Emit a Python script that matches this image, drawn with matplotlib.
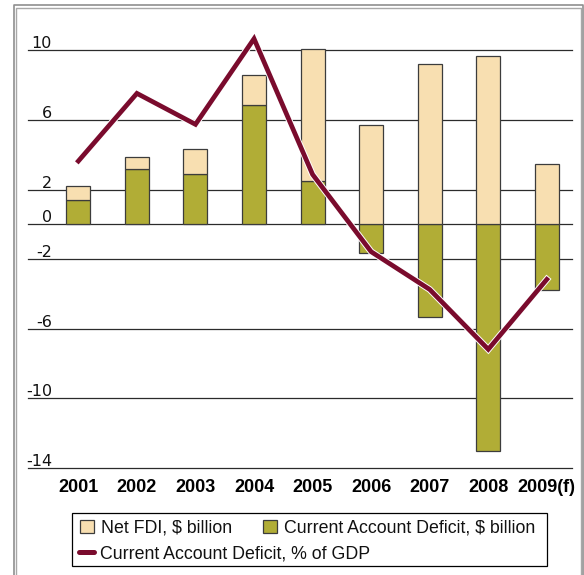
import matplotlib
matplotlib.use('Agg')
import matplotlib.pyplot as plt
from matplotlib.patches import Rectangle, Patch
from matplotlib.lines import Line2D
import matplotlib.patheffects as pe
import matplotlib.transforms as mtransforms
import numpy as np

# ---- data ----
years = ['2001', '2002', '2003', '2004', '2005', '2006', '2007', '2008', '2009(f)']
cad_bn = [1.40, 3.20, 2.89, 6.86, 2.49, -1.67, -5.33, -13.00, -3.76]
fdi_bn = [0.80, 0.65, 1.42, 1.74, 7.57, 5.69, 9.23, 9.69, 3.45]
cad_pct = [3.64, 7.53, 5.75, 10.67, 2.87, -1.57, -3.74, -7.18, -3.16]
y_ticks = [10, 6, 2, 0, -2, -6, -10, -14]
labels = ['Net FDI, $ billion', 'Current Account Deficit, $ billion',
          'Current Account Deficit, % of GDP']

C_FDI = '#F8DFB1'
C_CAD = '#B1AD36'
C_LINE = '#7A0B2D'
C_EDGE = '#3c3c3c'

W, H = 584, 575
fig = plt.figure(figsize=(W / 100, H / 100), dpi=100)


def fx(px):
    return px / W


def fy(py):
    return 1 - py / H


y_lo, y_hi = -14, 12
ppu = 17.4
ax_bottom_px = 468
ax_top_px = ax_bottom_px - (y_hi - y_lo) * ppu
ax = fig.add_axes([fx(28), fy(ax_bottom_px), fx(572) - fx(28), fy(ax_top_px) - fy(ax_bottom_px)])
ax.set_ylim(y_lo, y_hi)
ax.set_xlim(-0.86, 8.43)
for s in ax.spines.values():
    s.set_visible(False)

x = np.arange(len(years))
for t in y_ticks:
    ax.axhline(t, color='#2b2b2b', lw=0.9, zorder=1, clip_on=False)

bw = 0.41
cad = np.array(cad_bn)
fdi = np.array(fdi_bn)
ax.bar(x, cad, bw, color=C_CAD, edgecolor=C_EDGE, lw=0.9, zorder=2)
ax.bar(x, fdi, bw, bottom=np.maximum(cad, 0), color=C_FDI, edgecolor=C_EDGE, lw=0.9, zorder=2)

ax.plot(x, cad_pct, color=C_LINE, lw=3.4, zorder=4, solid_joinstyle='miter',
        path_effects=[pe.Stroke(linewidth=4.8, foreground='white'), pe.Normal()])

ax.set_yticks([])
ax.set_xticks(x)
ax.set_xticklabels(years, fontfamily='Liberation Sans', fontweight='bold', fontsize=13)
ax.tick_params(axis='x', length=0, pad=8)

ytr = mtransforms.offset_copy(ax.get_yaxis_transform(), fig=fig, x=0, y=2, units='dots')
for t in y_ticks:
    ax.text((52 - 28) / 544, t, str(t), transform=ytr, ha='right', va='baseline',
            fontsize=11.5, family='DejaVu Sans', color='#111111')

# ---- legend ----
fig.add_artist(Rectangle((fx(71.7), fy(566)), fx(546.7) - fx(71.7), fy(513.3) - fy(566),
                         transform=fig.transFigure, fill=False, edgecolor='black', lw=0.9))
h_fdi = Patch(facecolor=C_FDI, edgecolor=C_EDGE, lw=0.9)
h_cad = Patch(facecolor=C_CAD, edgecolor=C_EDGE, lw=0.9)
h_line = Line2D([], [], color=C_LINE, lw=3.6, solid_capstyle='round')
legprops = dict(frameon=False, loc='center left', borderpad=0, borderaxespad=0,
                handlelength=0.8, handleheight=0.72, handletextpad=0.38,
                prop={'family': 'Liberation Sans', 'size': 12.8})
entries = [(h_fdi, labels[0], 80, 528.3), (h_cad, labels[1], 262.7, 528.3),
           (h_line, labels[2], 79.3, 554)]
for h, lab, px, py in entries:
    leg = fig.legend([h], [lab], bbox_to_anchor=(fx(px), fy(py)),
                     bbox_transform=fig.transFigure, **legprops)
    for txt in leg.get_texts():
        txt.set_color('#111111')

# ---- outer frame ----
for (xl, yt, xr, col, lw) in [(13.5, 5.0, 583.0, '#8f8f8f', 1.2), (16.0, 7.5, 581.0, '#a8a8a8', 1.0)]:
    fig.add_artist(Line2D([fx(xl), fx(xl), fx(xr), fx(xr)], [fy(H + 5), fy(yt), fy(yt), fy(H + 5)],
                          transform=fig.transFigure, color=col, lw=lw))

fig.savefig('out.png', dpi=100)
